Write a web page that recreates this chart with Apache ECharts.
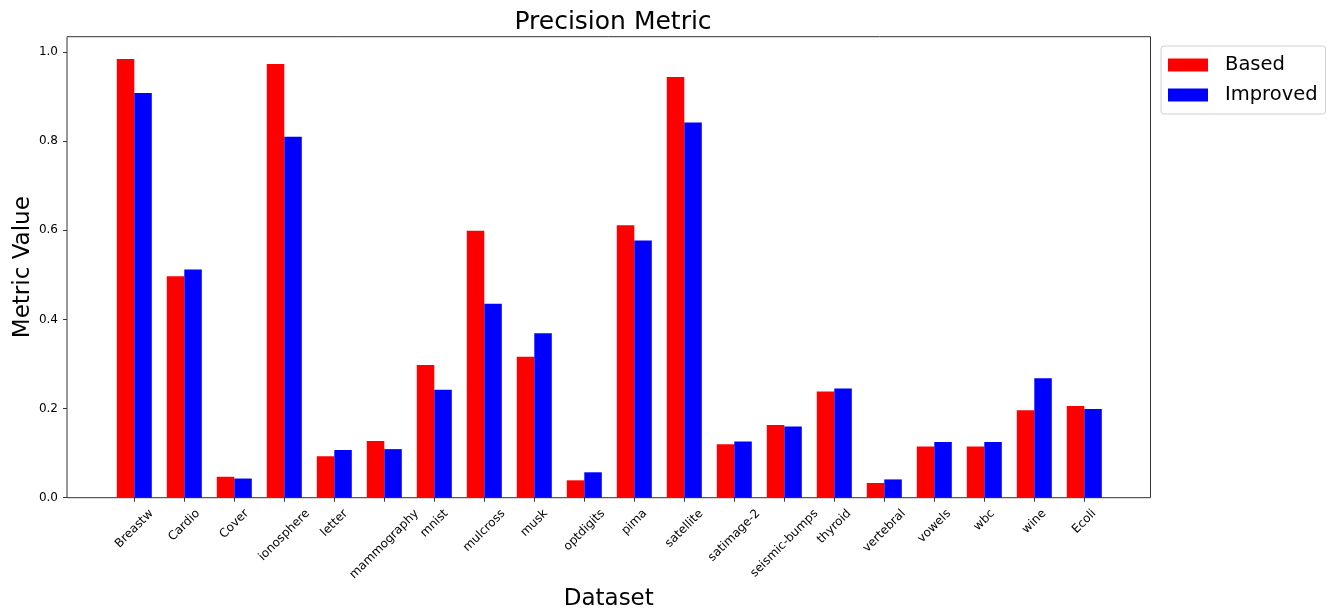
<!DOCTYPE html>
<html>
<head>
<meta charset="utf-8">
<script src="https://cdn.jsdelivr.net/npm/echarts@6/dist/echarts.min.js"></script>
<style>
  html, body { margin: 0; padding: 0; background: #fff; }
  #main { width: 1336px; height: 610px; }
</style>
</head>
<body>
<div id="main"></div>
<script>
// data
var datasets = ['Breastw', 'Cardio', 'Cover', 'ionosphere', 'letter', 'mammography', 'mnist',
  'mulcross', 'musk', 'optdigits', 'pima', 'satellite', 'satimage-2', 'seismic-bumps',
  'thyroid', 'vertebral', 'vowels', 'wbc', 'wine', 'Ecoli'];
var based = [0.984, 0.497, 0.047, 0.973, 0.093, 0.127, 0.298, 0.599, 0.316, 0.039,
  0.611, 0.944, 0.120, 0.163, 0.238, 0.033, 0.115, 0.115, 0.196, 0.206];
var improved = [0.908, 0.512, 0.043, 0.810, 0.107, 0.109, 0.242, 0.435, 0.369, 0.057,
  0.577, 0.842, 0.126, 0.160, 0.245, 0.041, 0.125, 0.125, 0.268, 0.199];
var yTicks = [0, 0.2, 0.4, 0.6, 0.8, 1.0];

var chart = echarts.init(document.getElementById('main'));
var font = 'DejaVu Sans';
var labelSize = 12;
var yMax = 1.0343;

// rotated tick labels centred under their tick (box top ~9px below the axis)
var ctx = document.createElement('canvas').getContext('2d');
ctx.font = labelSize + 'px "' + font + '"';
var rich = {};
datasets.forEach(function (name, i) {
  var w = ctx.measureText(name).width;
  var s = (w + 14) * 0.354 + 9;
  var p = Math.round(s * 1.414 * 10) / 10;
  rich['l' + i] = { fontFamily: font, fontSize: labelSize, color: '#000', padding: [p, p, 0, 0] };
});

var option = {
  animation: false,
  textStyle: { fontFamily: font },
  title: {
    text: 'Precision Metric',
    left: 608, top: 5, textAlign: 'center',
    textStyle: { fontFamily: font, fontSize: 25, fontWeight: 'normal', color: '#000' }
  },
  legend: {
    orient: 'vertical',
    left: 1161, top: 46,
    itemWidth: 40, itemHeight: 13, itemGap: 10,
    icon: 'rect',
    padding: [9, 8, 9, 7],
    borderColor: '#d0d0d0', borderWidth: 1, borderRadius: 3,
    textStyle: { fontFamily: font, fontSize: 19.5, color: '#000', padding: [0, 0, 0, 12] },
    data: ['Based', 'Improved']
  },
  grid: [
    // frame of the axes
    { left: 67, right: 185.5, top: 36.7, bottom: 112.3, show: true, outerBoundsMode: 'none',
      borderColor: '#333', borderWidth: 1, backgroundColor: 'transparent' },
    // where the categories sit
    { left: 109.3, right: 226.7, top: 36.7, bottom: 112.3, outerBoundsMode: 'none' }
  ],
  xAxis: [
    { gridIndex: 0, type: 'value', min: 0, max: 1,
      axisLine: { show: false }, axisTick: { show: false }, axisLabel: { show: false },
      splitLine: { show: false },
      name: 'Dataset', nameLocation: 'middle', nameGap: 90,
      nameTextStyle: { fontFamily: font, fontSize: 23, color: '#000' } },
    { gridIndex: 1, type: 'category', data: datasets,
      axisLine: { show: false },
      axisTick: { show: true, alignWithLabel: true, length: 4, lineStyle: { color: '#333' } },
      axisLabel: { rotate: 45, align: 'center', verticalAlign: 'middle', margin: 0, interval: 0,
        fontFamily: font, fontSize: labelSize, color: '#000', rich: rich,
        formatter: function (v, i) { return '{l' + i + '|' + v + '}'; } } }
  ],
  yAxis: [
    { gridIndex: 0, type: 'value', min: 0, max: yMax, interval: 0.2,
      splitLine: { show: false },
      axisLine: { show: false },
      axisTick: { show: true, length: 4, lineStyle: { color: '#333' },
        customValues: yTicks },
      axisLabel: { fontFamily: font, fontSize: labelSize, color: '#000', margin: 9,
        customValues: yTicks,
        formatter: function (v) { return v.toFixed(1); } },
      name: 'Metric Value', nameLocation: 'middle', nameGap: 32, nameRotate: 90,
      nameMoveOverlap: false,
      nameTextStyle: { fontFamily: font, fontSize: 23, color: '#000' } },
    { gridIndex: 1, type: 'value', min: 0, max: yMax, show: false, splitLine: { show: false } }
  ],
  series: [
    { name: 'Based', type: 'bar', xAxisIndex: 1, yAxisIndex: 1, data: based,
      barWidth: 17.5, barGap: '0%', itemStyle: { color: '#ff0000' } },
    { name: 'Improved', type: 'bar', xAxisIndex: 1, yAxisIndex: 1, data: improved,
      barWidth: 17.5, barGap: '0%', itemStyle: { color: '#0000ff' } }
  ]
};
chart.setOption(option);
</script>
</body>
</html>
